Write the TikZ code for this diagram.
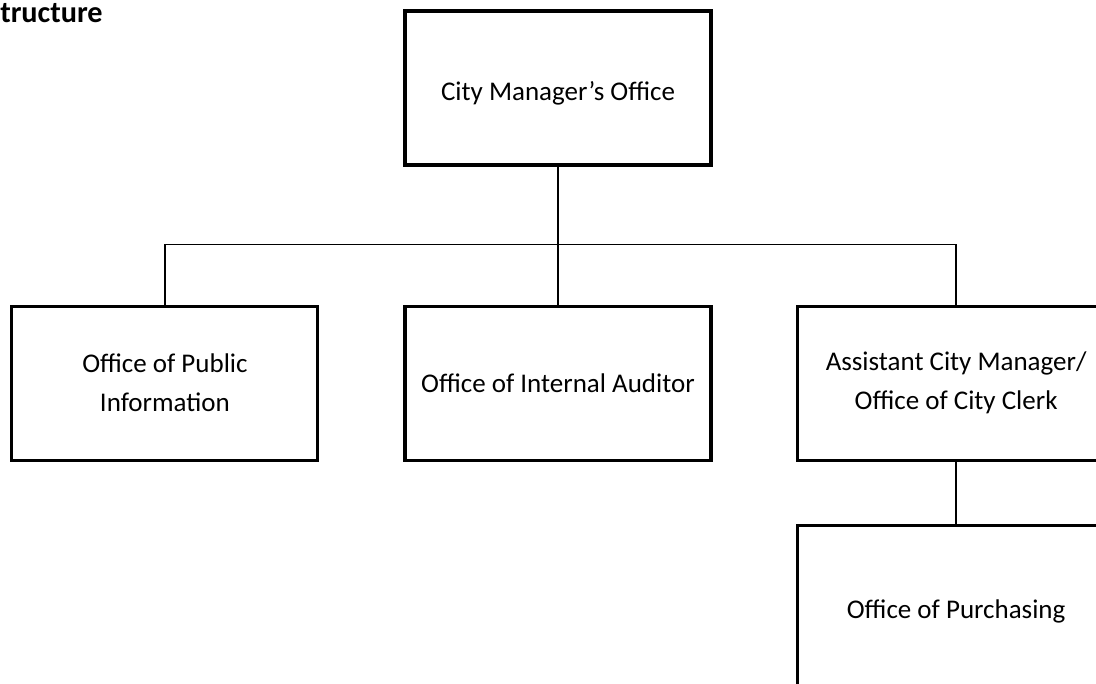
\documentclass[tikz,border=0pt]{standalone}
\usepackage{fontspec}
\setmainfont{Carlito}
\usetikzlibrary{positioning}

\begin{document}
\begin{tikzpicture}[
    node distance=3.45cm and 2.1cm,
    office/.style={
        rectangle,
        draw=black,
        line width=2.2pt,
        minimum width=7.65cm,
        minimum height=3.85cm,
        align=center,
        font=\fontsize{19.2}{27.7}\selectfont,
        inner sep=5pt
    },
    link/.style={line width=0.9pt},
    heading/.style={font=\bfseries\fontsize{21.5}{25}\selectfont, inner sep=0pt, anchor=base west},
]

\useasboundingbox (0,0) rectangle (27.4,17.075);
\clip (0,0) rectangle (27.4,17.075);

% nodes
\node[heading] (title) at (0,16.5) {tructure};

\node[office, text height=0.72cm] (cmo) at (13.95,14.875) {City Manager’s Office};

\node[office, below=3.45cm of cmo] (auditor)
    {Office of Internal Auditor};

\node[office, left=2.1cm of auditor] (pio)
    {Office of Public\\Information};

\node[office, right=2.075cm of auditor, minimum width=7.95cm] (clerk)
    {Assistant City Manager/\\Office of City Clerk};

\node[office, below=1.55cm of clerk, minimum width=7.95cm, minimum height=4.3cm]
    (purchasing) {Office of Purchasing};

\coordinate[below=1.95cm of cmo] (bus);

% connectors
\draw[link] (cmo) -- (bus);
\draw[link] (pio.north) |- (bus) -| (clerk.north);
\draw[link] (bus) -- (auditor);
\draw[link] (clerk) -- (purchasing);

\end{tikzpicture}
\end{document}
